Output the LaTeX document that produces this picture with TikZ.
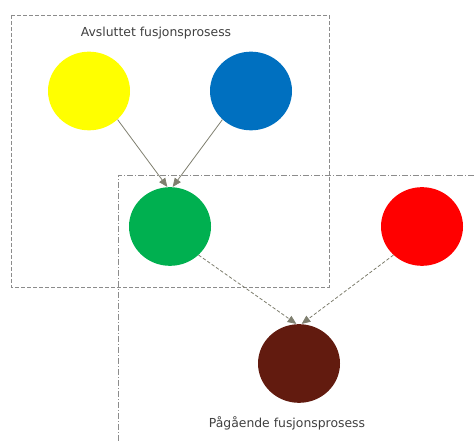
\documentclass[tikz,border=0pt]{standalone}
\usepackage{fontspec}
\setmainfont{DejaVu Sans}
\usetikzlibrary{shapes.geometric,arrows.meta}
\definecolor{boxgray}{HTML}{8C8C8C}
\definecolor{arrowgray}{HTML}{7F7F6F}
\definecolor{txtgray}{HTML}{404040}
\definecolor{cyellow}{HTML}{FFFF00}
\definecolor{cblue}{HTML}{0070C0}
\definecolor{cgreen}{HTML}{00B050}
\definecolor{cred}{HTML}{FF0000}
\definecolor{cbrown}{HTML}{621B0F}
\begin{document}
\begin{tikzpicture}[x=0.75pt,y=-0.75pt,
  blob/.style={ellipse,draw=none,minimum width=61.5pt,minimum height=59pt,inner sep=0pt},
  grouplabel/.style={text=txtgray,font=\fontsize{9.3}{11}\selectfont,inner sep=0pt},
  fusearrow/.style={draw=arrowgray,line width=0.6pt,-{Triangle[length=6.5pt,width=5.5pt]}},
  pendingarrow/.style={fusearrow,dash pattern=on 2.5pt off 1.5pt}]
\useasboundingbox (0,0) rectangle (475,441);
% group frames
\draw[boxgray,line width=0.7pt,dash pattern=on 3pt off 1.5pt] (11,15) rectangle (329,287);
\draw[boxgray,line width=0.7pt,dash pattern=on 4.5pt off 1.5pt on 0.75pt off 1.5pt]
  (118,441) -- (118,175) -- (475,175);
% nodes
\node[blob,fill=cyellow] (yellow) at (89,91) {};
\node[blob,fill=cblue] (blue) at (251,91) {};
\node[blob,fill=cgreen] (green) at (170,226.5) {};
\node[blob,fill=cred] (red) at (422,226.5) {};
\node[blob,fill=cbrown] (brown) at (299,363.5) {};
% labels
\node[grouplabel] (done) at (156,33) {Avsluttet fusjonsprosess};
\node[grouplabel] (ongoing) at (287,423) {Pågående fusjonsprosess};
% connectors
\draw[fusearrow] (yellow.-45) -- ([xshift=-2]green.north);
\draw[fusearrow] (blue.-135) -- ([xshift=2]green.north);
\draw[pendingarrow] (green.-45) -- ([xshift=-2]brown.north);
\draw[pendingarrow] (red.-135) -- ([xshift=2]brown.north);
\end{tikzpicture}
\end{document}
